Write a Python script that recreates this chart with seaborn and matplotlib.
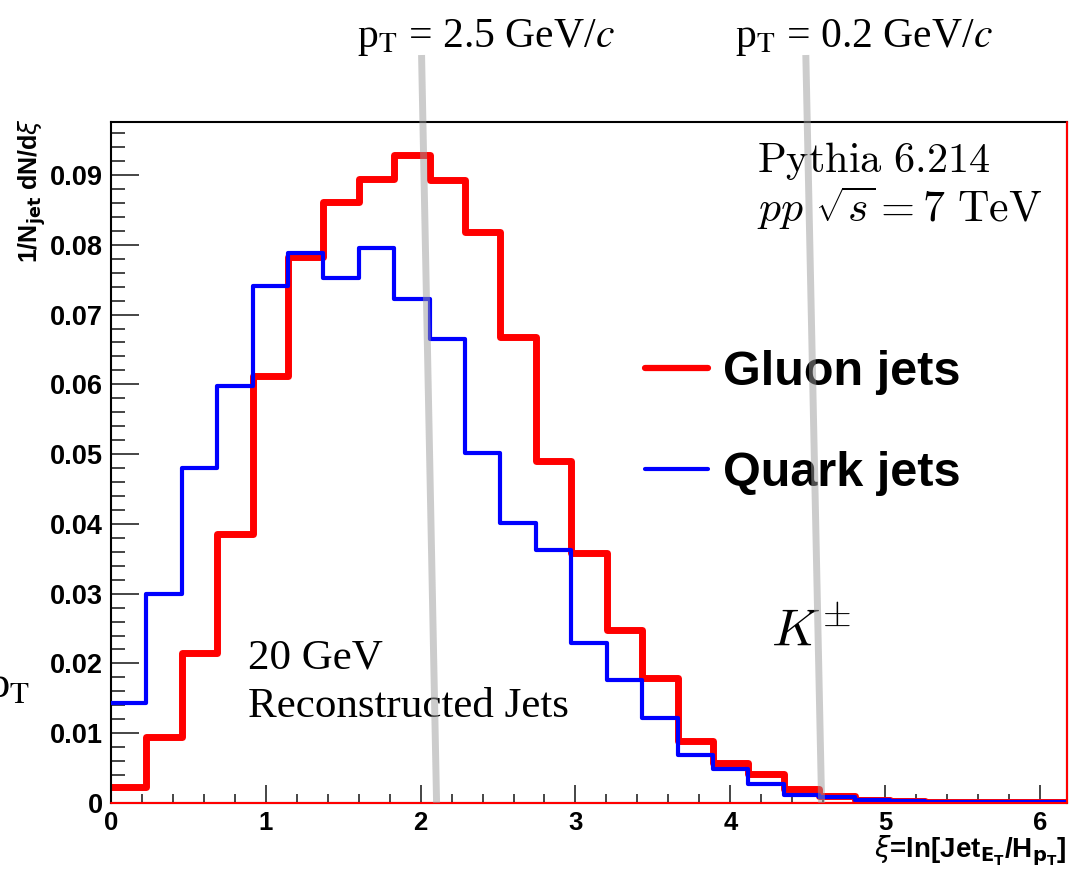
import numpy as np
import pandas as pd
import matplotlib
matplotlib.use("Agg")
import matplotlib.pyplot as plt
from matplotlib.lines import Line2D
from matplotlib.ticker import MultipleLocator
import seaborn as sns

# xi = ln(E_jet / p_hadron), 27 bins
xi_max = 6.175
n_bins = 27
gluon = [0.0023, 0.0095, 0.0215, 0.0385, 0.0612, 0.0783, 0.0862, 0.0895, 0.0929,
         0.0893, 0.0818, 0.0668, 0.0490, 0.0358, 0.0248, 0.0179, 0.0089, 0.0057,
         0.0042, 0.0020, 0.0010, 0.0005, 0.0003, 0.0002, 0.0001, 0.0001, 0.0001]
quark = [0.0143, 0.0299, 0.0480, 0.0597, 0.0741, 0.0788, 0.0752, 0.0796, 0.0722,
         0.0665, 0.0501, 0.0401, 0.0362, 0.0229, 0.0176, 0.0122, 0.0069, 0.0049,
         0.0027, 0.0011, 0.0009, 0.0004, 0.0003, 0.0002, 0.0001, 0.0001, 0.0001]
labels = ["Gluon jets", "Quark jets"]
# pT cut lines (xi at top of figure, xi at axis)
cut_labels = ["p$_\\mathrm{T}$ = 2.5 GeV/$c$", "p$_\\mathrm{T}$ = 0.2 GeV/$c$"]
cut_top = [2.006, 4.488]
cut_bottom = [2.103, 4.59]
y_top = 0.0976

sns.set_style("white")
plt.rcParams["font.family"] = ["Liberation Sans", "DejaVu Sans"]
plt.rcParams["text.color"] = "black"

edges = np.linspace(0, xi_max, n_bins + 1)
centers = (edges[:-1] + edges[1:]) / 2
df = pd.DataFrame({"xi": centers, "gluon": gluon, "quark": quark})

fig = plt.figure(figsize=(10.79, 8.77), dpi=100)
ax = fig.add_axes([111 / 1079, 74 / 877, 956 / 1079, 681 / 877])

sns.histplot(data=df, x="xi", weights="quark", bins=edges.tolist(), element="step",
             fill=False, color="#0000ff", lw=3, ax=ax, zorder=3)
sns.histplot(data=df, x="xi", weights="gluon", bins=edges.tolist(), element="step",
             fill=False, color="#ff0000", lw=5, ax=ax, zorder=2)
ax.axhline(0, color="#ff0000", lw=1.5, zorder=4, clip_on=False)
ax.axvline(xi_max, color="#ff0000", lw=1.5, zorder=4, clip_on=False)

ax.set_xlim(0, xi_max)
ax.set_ylim(0, y_top)

for s in ax.spines.values():
    s.set_linewidth(1.5)
    s.set_color("black")

ax.xaxis.set_major_locator(MultipleLocator(1))
ax.xaxis.set_minor_locator(MultipleLocator(0.2))
ax.yaxis.set_major_locator(MultipleLocator(0.01))
ax.yaxis.set_minor_locator(MultipleLocator(0.002))
ax.tick_params(axis="x", which="major", direction="in", length=13, width=1.2, pad=6,
               labelsize=18.5, bottom=True, top=False)
ax.tick_params(axis="x", which="minor", direction="in", length=6.5, width=1.2,
               bottom=True, top=False)
ax.tick_params(axis="y", which="major", direction="in", length=20, width=1.2, pad=6,
               labelsize=19.5, left=True, right=False)
ax.tick_params(axis="y", which="minor", direction="in", length=10, width=1.2,
               left=True, right=False)
ax.set_yticks(np.arange(0, 0.095, 0.01))
ax.set_yticklabels(["0"] + [f"{v:.2f}" for v in np.arange(0.01, 0.095, 0.01)])
ax.set_xticks(range(0, 7))
ax.set_xticklabels([str(i) for i in range(0, 7)])
for lab in ax.get_xticklabels() + ax.get_yticklabels():
    lab.set_fontweight("bold")
    lab.set_color("black")

ax.set_ylabel(r"1/N$_{\mathbf{jet}}$ dN/d$\xi$", fontsize=18, fontweight="bold",
              loc="top", color="black")
ax.yaxis.set_label_coords(-0.066, 1.005)
ax.set_xlabel(r"$\xi$=ln[Jet$_{\mathbf{E}_{\mathbf{T}}}$/H$_{\mathbf{p}_{\mathbf{T}}}$]",
              fontsize=20, fontweight="bold", loc="right", color="black")
ax.xaxis.set_label_coords(1.0, -0.045)
ax.xaxis.label.set_va("top")

# legend
handles = [Line2D([], [], color="#ff0000", lw=4.5), Line2D([], [], color="#0000ff", lw=3)]
leg = ax.legend(handles, labels, loc="center left",
                bbox_to_anchor=(645 / 1079, 1 - 423 / 877),
                bbox_transform=fig.transFigure, frameon=False, borderpad=0,
                borderaxespad=0, handlelength=1.3, handletextpad=0.3, labelspacing=1.15,
                prop={"family": "Liberation Sans", "weight": "bold", "size": 35})
for t in leg.get_texts():
    t.set_color("black")

# annotations
ax.text(4.17, 0.0905, r"$\mathrm{Pythia\ 6.214}$", fontsize=30.5, va="baseline",
        math_fontfamily="cm")
ax.text(4.17, 0.0832, r"$pp\ \sqrt{s} = 7\ \mathrm{TeV}$", fontsize=31.5, va="baseline",
        math_fontfamily="cm")
ax.text(0.884, 0.0193, "20 GeV", fontsize=31, family="Liberation Serif", va="baseline")
ax.text(0.884, 0.0123, "Reconstructed Jets", fontsize=31, family="Liberation Serif",
        va="baseline")
ax.text(4.265, 0.0226, r"$K^{\pm}$", fontsize=38, va="baseline", math_fontfamily="cm")

for lab, x0, x1, px in zip(cut_labels, cut_top, cut_bottom, [357, 735]):
    ax.plot([x0, x1], [0.1072, 0], color="#9a9a9a", alpha=0.5, lw=5,
            solid_capstyle="butt", clip_on=False, zorder=10)
    fig.text(px / 1079, 1 - 47 / 877, lab, fontsize=30, family="Liberation Serif",
             va="baseline", math_fontfamily="stix")

# clipped text at the left edge of the original figure
fig.text(-0.012, 1 - 697 / 877, "p$_\\mathrm{T}$", fontsize=32, family="Liberation Serif",
         va="baseline", math_fontfamily="stix")

fig.savefig("out.png", dpi=100)
